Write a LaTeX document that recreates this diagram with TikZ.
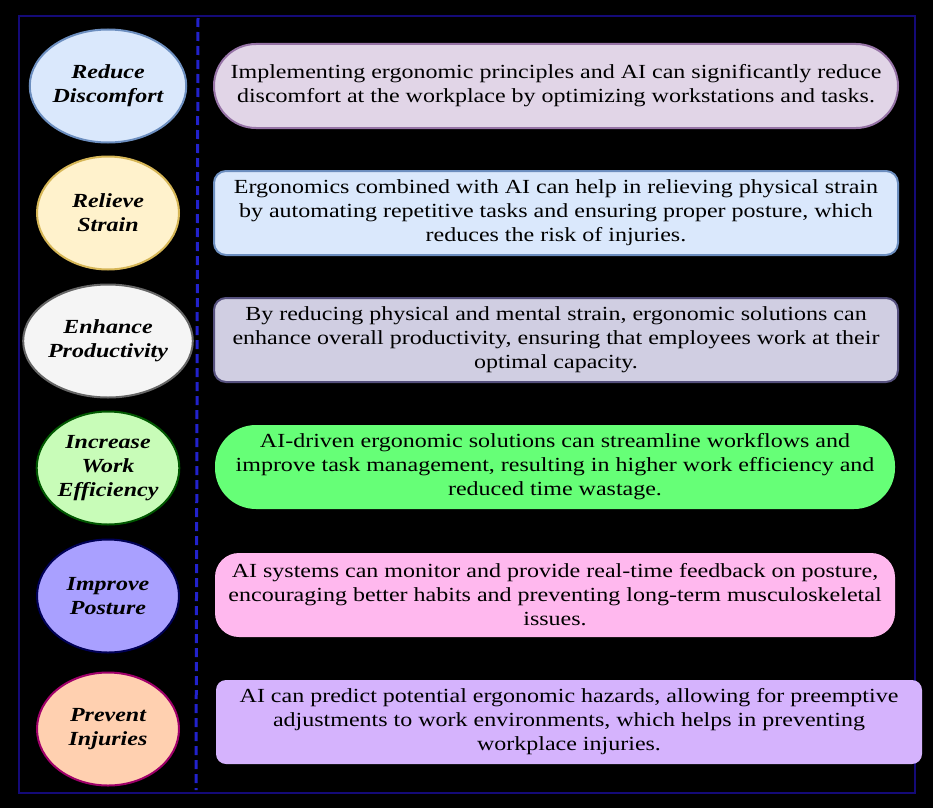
\documentclass[tikz,border=0pt]{standalone}
\usepackage{fontspec}
\setmainfont[FakeStretch=1.2]{Liberation Serif}
\usetikzlibrary{shapes.geometric}
\begin{document}
\begin{tikzpicture}[x=1pt,y=-1pt,
  lab/.style={ellipse,draw,line width=2pt,minimum width=142pt,minimum height=113pt,inner sep=0pt,align=center,font=\fontsize{20}{24}\selectfont\bfseries\itshape},
  box/.style={draw,line width=2pt,minimum width=684pt,minimum height=84pt,align=center,font=\fontsize{20}{24}\selectfont}]
\useasboundingbox (0,0) rectangle (933,808);
\fill[black] (0,0) rectangle (933,808);
\draw[line width=2.5pt,color={rgb,255:red,20;green,10;blue,120}] (19,16) rectangle (915,793);
\draw[line width=3pt,color={rgb,255:red,34;green,34;blue,204},dash pattern=on 9pt off 5pt] (198,18) coordinate (t) -- (196,790) coordinate (b);
\definecolor{f1}{HTML}{DAE8FC}\definecolor{d1}{HTML}{6C8EBF}
\definecolor{f2}{HTML}{FFF2CC}\definecolor{d2}{HTML}{D6B656}
\definecolor{f3}{HTML}{F5F5F5}\definecolor{d3}{HTML}{666666}
\definecolor{f4}{HTML}{C8FCB8}\definecolor{d4}{HTML}{005700}
\definecolor{f5}{HTML}{A9A0FF}\definecolor{d5}{HTML}{000055}
\definecolor{f6}{HTML}{FFD0B0}\definecolor{d6}{HTML}{A0006A}
\definecolor{b1}{HTML}{E1D5E7}\definecolor{e1}{HTML}{9673A6}
\definecolor{b3}{HTML}{D0CEE2}\definecolor{e3}{HTML}{56517E}
\definecolor{b4}{HTML}{66FF77}
\definecolor{b5}{HTML}{FFB8EE}
\definecolor{b6}{HTML}{D5B3FD}
\node[lab,fill=f1,draw=d1] (l1) at (108,86) {Reduce\\Discomfort};
\node[lab,fill=f2,draw=d2] (l2) at (108,213) {Relieve\\Strain};
\node[lab,fill=f3,draw=d3] (l3) at (108,341) {Enhance\\Productivity};
\node[lab,fill=f4,draw=d4] (l4) at (108,468) {Increase\\Work\\Efficiency};
\node[lab,fill=f5,draw=d5] (l5) at (108,596) {Improve\\Posture};
\node[lab,fill=f6,draw=d6] (l6) at (108,729) {Prevent\\Injuries};
\node[box,fill=b1,draw=e1,rounded corners=42pt] (t1) at (556,86) {Implementing ergonomic principles and AI can significantly reduce\\discomfort at the workplace by optimizing workstations and tasks.};
\node[box,fill=f1,draw=d1,rounded corners=12pt] (t2) at (556,213) {Ergonomics combined with AI can help in relieving physical strain\\by automating repetitive tasks and ensuring proper posture, which\\reduces the risk of injuries.};
\node[box,fill=b3,draw=e3,rounded corners=12pt] (t3) at (556,340) {By reducing physical and mental strain, ergonomic solutions can\\enhance overall productivity, ensuring that employees work at their\\optimal capacity.};
\node[box,fill=b4,draw=none,minimum width=680pt,rounded corners=41pt] (t4) at (555,467) {AI-driven ergonomic solutions can streamline workflows and\\improve task management, resulting in higher work efficiency and\\reduced time wastage.};
\node[box,fill=b5,draw=none,minimum width=680pt,rounded corners=24pt] (t5) at (555,595) {AI systems can monitor and provide real-time feedback on posture,\\encouraging better habits and preventing long-term musculoskeletal\\issues.};
\node[box,fill=b6,draw=none,minimum width=706pt,rounded corners=10pt] (t6) at (569,722) {AI can predict potential ergonomic hazards, allowing for preemptive\\adjustments to work environments, which helps in preventing\\workplace injuries.};
\end{tikzpicture}
\end{document}
